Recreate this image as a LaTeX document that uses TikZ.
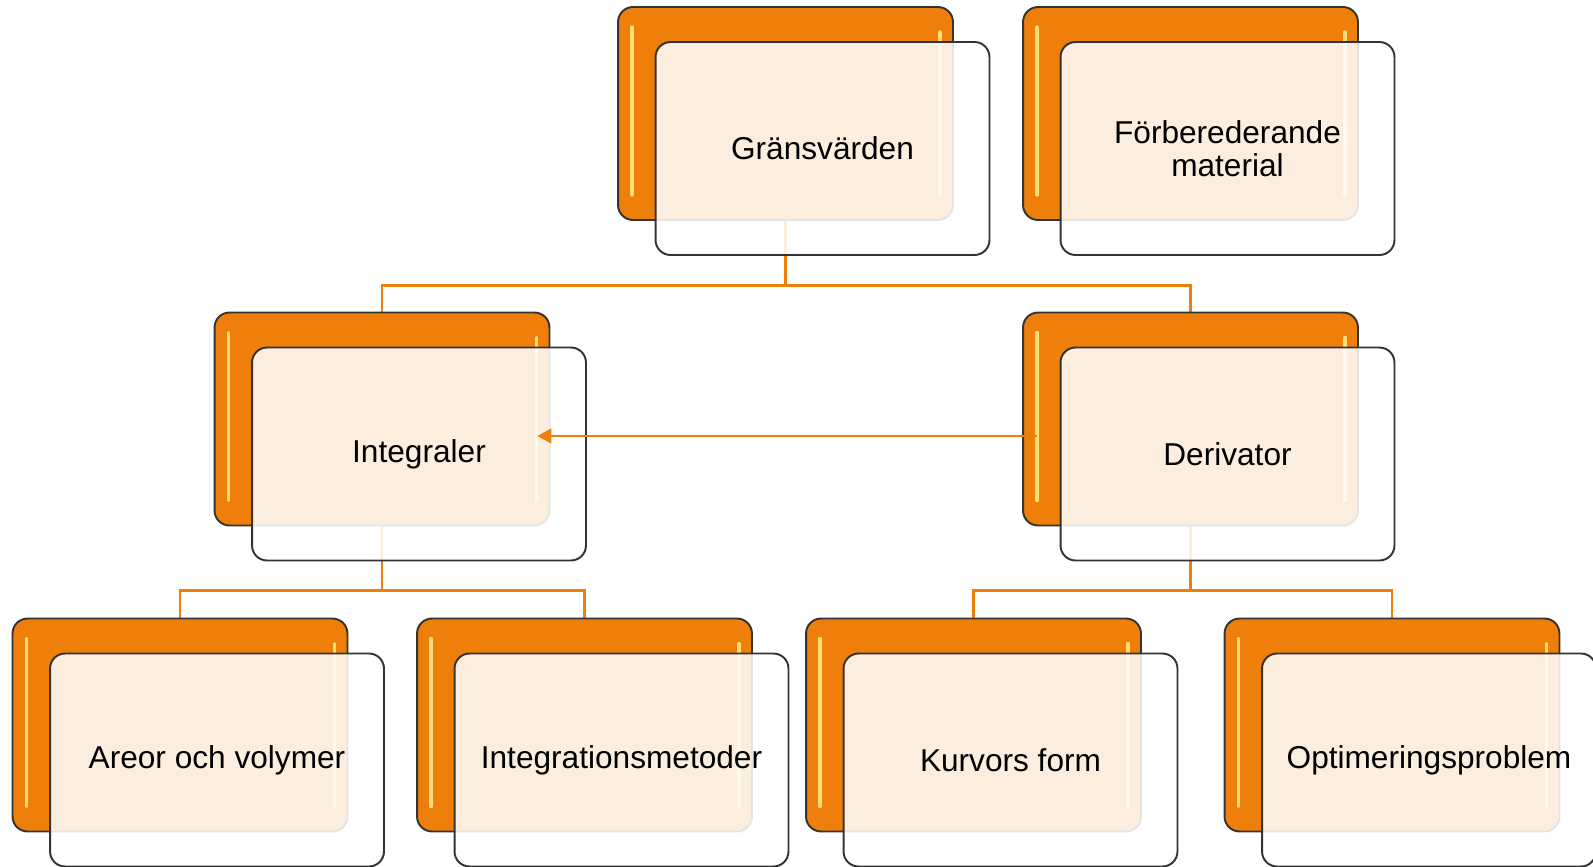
\documentclass[tikz,border=0pt]{standalone}
\usepackage{fontspec}
\setmainfont{Liberation Sans}
\usetikzlibrary{arrows.meta,calc,backgrounds}

\definecolor{cardorange}{RGB}{238,127,10}
\definecolor{cardedge}{RGB}{51,51,51}
\definecolor{glow}{RGB}{255,222,120}

\tikzset{
  back/.style={draw=cardedge, line width=1.1pt, fill=cardorange,
    rounded corners=0.3cm, minimum width=6.7cm, minimum height=4.26cm,
    path picture={
      \draw[glow, line width=0.07cm, line cap=round]
        ([xshift=0.28cm,yshift=-0.4cm]path picture bounding box.north west)
        -- ([xshift=0.28cm,yshift=0.5cm]path picture bounding box.south west);
      \draw[glow, line width=0.07cm, line cap=round]
        ([xshift=-0.26cm,yshift=-0.5cm]path picture bounding box.north east)
        -- ([xshift=-0.26cm,yshift=0.5cm]path picture bounding box.south east);
    }},
  card/.style={draw=cardedge, line width=1.1pt, fill=white, fill opacity=0.87,
    text opacity=1, rounded corners=0.3cm, minimum width=6.68cm,
    minimum height=4.26cm, align=center, font=\fontsize{18}{18.5}\selectfont},
  link/.style={draw=cardorange, line width=1.5pt},
  arrowline/.style={draw=cardorange, line width=1pt,
    -{Triangle[length=0.28cm,width=0.3cm]}}
}

\begin{document}
\begin{tikzpicture}[x=0.02cm, y=-0.02cm]

\useasboundingbox (0,0) rectangle (1593,866);

% cards: orange back plate with the text card in front
\foreach \id/\x/\y/\txt in {
    gr/785.5/113.5/Gränsvärden,
    fo/1190.5/113.5/{Förberederande\\material},
    int/382/419/Integraler,
    der/1190.5/419/Derivator,
    are/180/725/Areor och volymer,
    met/584.5/725/Integrationsmetoder,
    kur/973.5/725/Kurvors form,
    opt/1392/725/Optimeringsproblem}{
  \node[back] (\id-b) at (\x,\y) {};
  \node[card] (\id) at ($(\id-b)+(37,35)$) {\txt};
}

% tree connectors
\begin{scope}[on background layer]
  \draw[link] (gr-b.south) -- ++(0,64.5) -| (int-b.north);
  \draw[link] (gr-b.south) -- ++(0,64.5) -| (der-b.north);
  \draw[link] (int-b.south) -- ++(0,64) -| (are-b.north);
  \draw[link] (int-b.south) -- ++(0,64) -| (met-b.north);
  \draw[link] (der-b.south) -- ++(0,64) -| (kur-b.north);
  \draw[link] (der-b.south) -- ++(0,64) -| (opt-b.north);
\end{scope}

\draw[arrowline, shorten <=-0.3cm, shorten >=-0.26cm]
  ([yshift=-0.34cm]der-b.west) -- ([yshift=-0.34cm]int-b.east);

\end{tikzpicture}
\end{document}
